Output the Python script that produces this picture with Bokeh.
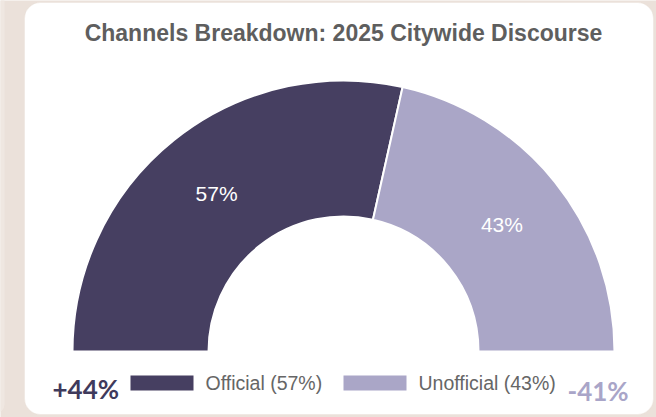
import math
from bokeh.plotting import figure
from bokeh.models import Range1d, BoxAnnotation, ColumnDataSource
from bokeh.core.properties import value
from bokeh.embed import file_html
from bokeh.resources import INLINE

# ---- data ----
title_text = "Channels Breakdown: 2025 Citywide Discourse"
categories = ["Official", "Unofficial"]
shares = [57, 43]
slice_colors = ["#463f61", "#aaa6c7"]
changes = ["+44%", "-41%"]
change_colors = ["#3f3a5c", "#a9a5c8"]

W, H = 656, 417
BEIGE = "#ebe1da"

p = figure(width=W, height=H, x_range=Range1d(0, W), y_range=Range1d(0, H),
           toolbar_location=None, output_backend="svg", min_border=0)
p.axis.visible = False
p.grid.visible = False
p.outline_line_color = None
p.background_fill_color = BEIGE
p.border_fill_color = BEIGE

def Y(y):
    return H - y

# page strip on the left and white card
p.add_layout(BoxAnnotation(left=-30, right=4, bottom=Y(412), top=Y(-30),
                           fill_color="#efe7e1", fill_alpha=1, line_color=None,
                           border_radius=8, level="underlay"))
p.add_layout(BoxAnnotation(left=24, right=653, bottom=Y(414), top=Y(2),
                           fill_color="white", fill_alpha=1, line_color="#e4d9d1",
                           line_width=1, border_radius=16, level="underlay"))

# ---- half donut ----
cx, cy = 343, Y(351)
r_out, r_in = 271, 135
total = sum(shares)
starts, ends, lx, ly, ltxt = [], [], [], [], []
angle = math.pi
for s in shares:
    span = s / total * math.pi
    end = angle
    start = angle - span
    starts.append(start)
    ends.append(end)
    mid = (start + end) / 2
    rm = (r_out + r_in) / 2
    lx.append(cx + rm * math.cos(mid))
    ly.append(cy + rm * math.sin(mid))
    ltxt.append(f"{s}%")
    angle = start

src = ColumnDataSource(dict(cat=categories, start=starts, end=ends,
                            color=slice_colors, lx=lx, ly=ly, ltxt=ltxt))
p.annular_wedge(x=cx, y=cy, inner_radius=r_in, outer_radius=r_out,
                start_angle="start", end_angle="end", fill_color="color",
                line_color="white", line_width=2, source=src)
p.text(x="lx", y="ly", text="ltxt", source=src, text_color="white",
       text_font=value("Liberation Sans"), text_font_size="21px",
       text_align="center", text_baseline="middle")

# ---- title ----
p.text(x=[343], y=[Y(32)], text=[title_text], text_color="#5e5e5e",
       text_font=value("Liberation Sans"), text_font_style="bold",
       text_font_size="23px", text_align="center", text_baseline="middle")

# ---- legend ----
box_left = [130, 343]
leg_labels = [f"{c} ({s}%)" for c, s in zip(categories, shares)]
p.rect(x=[b + 31.5 for b in box_left], y=[Y(382.5)] * 2, width=63, height=15,
       fill_color=slice_colors, line_color=None)
p.text(x=[b + 75 for b in box_left], y=[Y(382)] * 2, text=leg_labels,
       text_color="#666666", text_font=value("Liberation Sans"),
       text_font_size="19.5px", text_align="left", text_baseline="middle")

# ---- change figures ----
p.text(x=[52, 567], y=[Y(388), Y(390)], text=changes, text_color=change_colors,
       text_font=value("Lato"), text_font_style="bold", text_font_size="26px",
       text_align="left", text_baseline="middle")

open("out.html", "w").write(file_html(p, INLINE))
